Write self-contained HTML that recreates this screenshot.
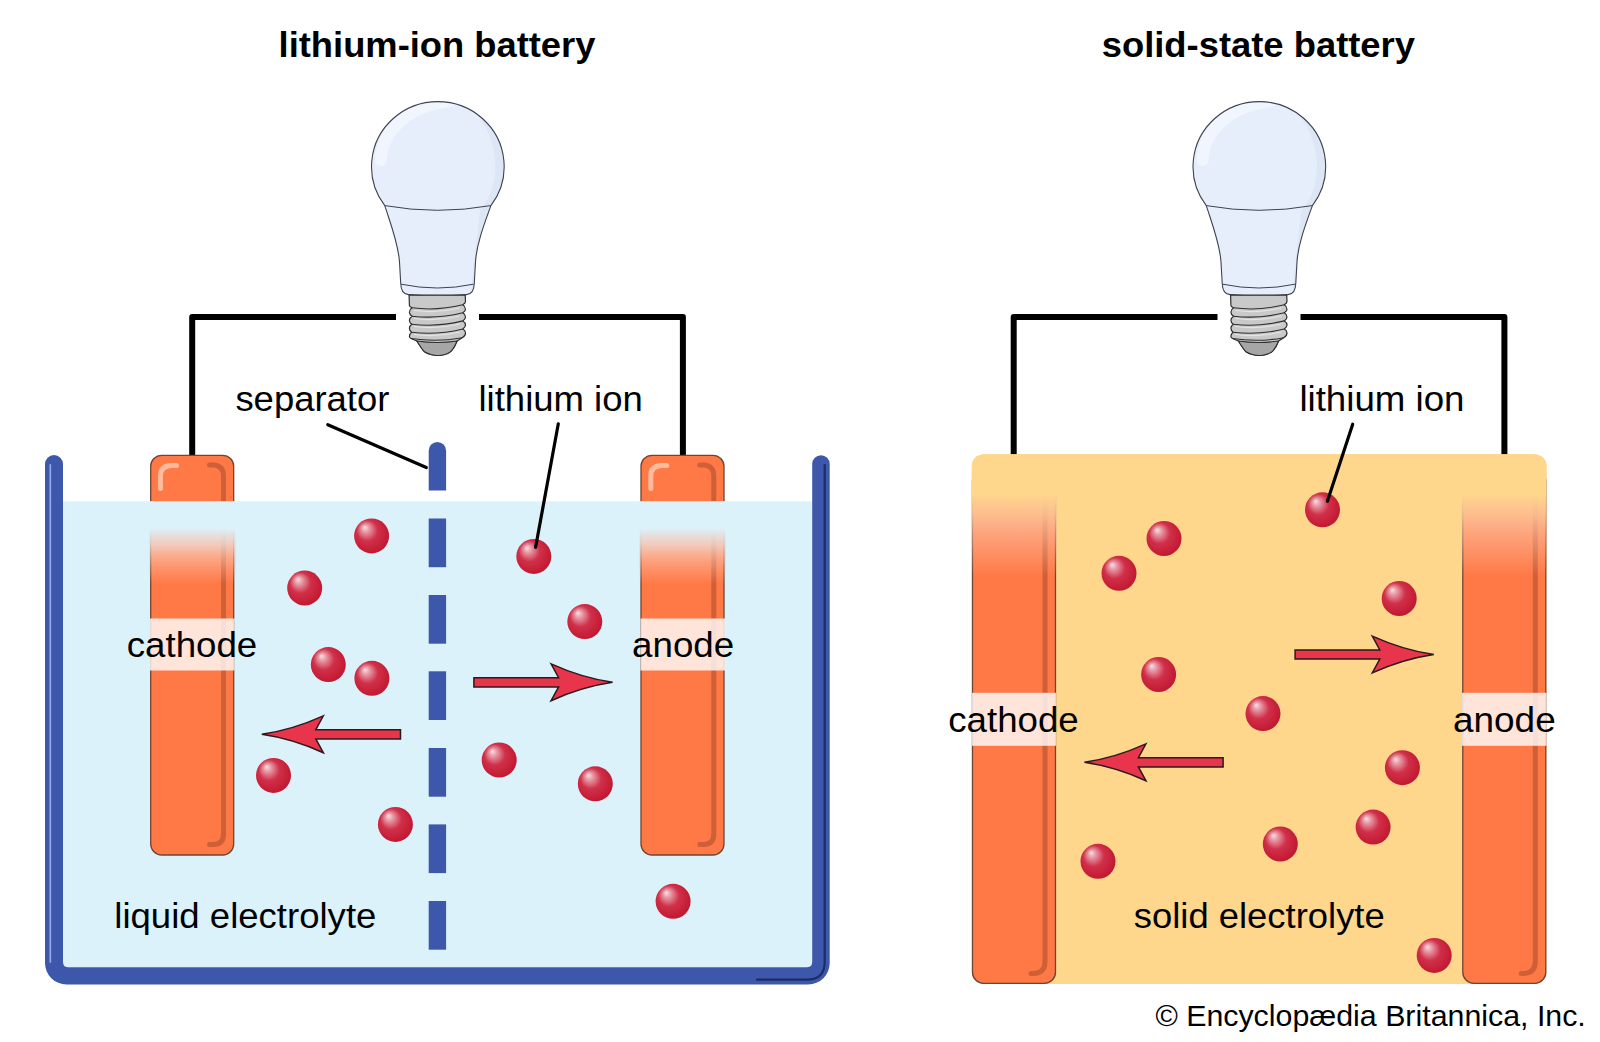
<!DOCTYPE html>
<html><head><meta charset="utf-8">
<style>
html,body{margin:0;padding:0;background:#fff;}
body{width:1600px;height:1042px;overflow:hidden;position:relative;}
svg{position:absolute;left:0;top:0;}
text{font-family:"Liberation Sans",sans-serif;fill:#000;}
</style></head><body>
<svg width="1600" height="1042" viewBox="0 0 1600 1042">
<defs>
  <radialGradient id="gBall" cx="0.45" cy="0.45" r="0.6" fx="0.3" fy="0.25">
    <stop offset="0" stop-color="#f7e1e5"/>
    <stop offset="0.18" stop-color="#e89aa6"/>
    <stop offset="0.5" stop-color="#d0304a"/>
    <stop offset="0.85" stop-color="#c61d36"/>
    <stop offset="1" stop-color="#b8192f"/>
  </radialGradient>
  <g id="ball"><circle cx="0" cy="0" r="17.5" fill="url(#gBall)"/></g>
  <path id="arrowR" d="M -138.7,-4.6 L -54,-4.6 L -61.5,-18.4 Q -30.5,-4.4 0,0 Q -30.5,4.4 -61.5,18.4 L -54,4.6 L -138.7,4.6 Z" fill="#e8354b" stroke="#2b1a1c" stroke-width="1.5" stroke-linejoin="miter"/>
  <linearGradient id="gFadeL" x1="0" y1="0" x2="0" y2="1">
    <stop offset="0" stop-color="#dcf2fa" stop-opacity="1"/>
    <stop offset="0.3" stop-color="#efdcd6" stop-opacity="0.82"/>
    <stop offset="0.6" stop-color="#fbc6ae" stop-opacity="0.5"/>
    <stop offset="1" stop-color="#fbc0a8" stop-opacity="0"/>
  </linearGradient>
  <linearGradient id="gFadeS" x1="0" y1="0" x2="0" y2="1">
    <stop offset="0" stop-color="#fed68c" stop-opacity="1"/>
    <stop offset="0.25" stop-color="#fdc99a" stop-opacity="0.85"/>
    <stop offset="0.5" stop-color="#fcc3a4" stop-opacity="0.55"/>
    <stop offset="1" stop-color="#fcc3a4" stop-opacity="0"/>
  </linearGradient>
  <clipPath id="bulbClip"><path d="M 384.8,205.6 A 66.3 65 0 1 1 490.9,205.6 C 484.5,223.5 476.5,244 475.5,262 L 474.3,283 Q 474,294.3 466.5,294.6 Q 437.5,297.5 408.5,294.6 Q 401,294.3 400.7,283 L 399.5,262 C 398.5,244 390.5,223.5 384.8,205.6 Z"/></clipPath>
  <g id="bulb">
    <path d="M 384.8,205.6 A 66.3 65 0 1 1 490.9,205.6 C 484.5,223.5 476.5,244 475.5,262 L 474.3,283 Q 474,294.3 466.5,294.6 Q 437.5,297.5 408.5,294.6 Q 401,294.3 400.7,283 L 399.5,262 C 398.5,244 390.5,223.5 384.8,205.6 Z" fill="#e7eefb"/>
    <g clip-path="url(#bulbClip)">
      <path d="M 466,104 C 500,130 504,185 480,210 L 471,290 L 520,290 L 520,100 Z" fill="#dbe3f4" opacity="0.8"/>
      <path d="M 381,160 C 382,130 410,105 450,101" fill="none" stroke="#f3f6ff" stroke-width="12" opacity="0.8" stroke-linecap="round"/>
    </g>
    <path d="M 384.8,205.6 A 66.3 65 0 1 1 490.9,205.6 C 484.5,223.5 476.5,244 475.5,262 L 474.3,283 Q 474,294.3 466.5,294.6 Q 437.5,297.5 408.5,294.6 Q 401,294.3 400.7,283 L 399.5,262 C 398.5,244 390.5,223.5 384.8,205.6 Z" fill="none" stroke="#3d4250" stroke-width="1.1"/>
    <path d="M 384.8,205.6 Q 437.5,215 490.9,205.6" fill="none" stroke="#3d4250" stroke-width="1"/>
    <path d="M 401.1,284.2 Q 437.5,291.8 473.5,284.2" fill="none" stroke="#3d4250" stroke-width="1"/>
    <path d="M 409.1,295.2 L 465.2,295.2 L 465.5,301.4 Q 465.5,303 462.8,304.8 Q 465.5,306.5 465.5,309.5 Q 465.5,311 462.8,312.8 Q 465.5,314.5 465.5,316.9 Q 465.5,319 462.8,320.9 Q 465.5,322.5 465.5,325 Q 465.5,327 462.8,329 Q 465.5,330.5 465.5,333 Q 465.5,336 462.2,337.7 L 457.1,341 C 455.5,345 454,348 451.7,350.5 Q 448,354.5 439,355.5 Q 431,355.8 424.5,351.8 C 422,349.5 419.5,345 416.8,341 L 411,338.5 Q 409.4,337.5 409.4,336.4 Q 409.4,334 411.6,332.3 Q 409.4,330.5 409.4,328.3 Q 409.4,326 411.8,324.3 Q 409.4,322.5 409.4,320.2 Q 409.4,318 412.1,316.2 Q 409.4,314.5 409.4,312.2 Q 409.4,309.5 412.1,307.8 Q 409.4,306.5 409.4,305.5 Z" fill="#c9c9c9" stroke="#2e2e2e" stroke-width="1.2" stroke-linejoin="round"/>
    <path d="M 416.8,341 Q 437,344 457.1,341 C 455.5,345 454,348 451.7,350.5 Q 448,354.5 439,355.5 Q 431,355.8 424.5,351.8 C 422,349.5 419.5,345 416.8,341 Z" fill="#a6a6a6" stroke="#2e2e2e" stroke-width="1.1"/>
    <path d="M 412.1,307.8 Q 437,311.1 462.8,304.8 M 412.1,316.2 Q 437,319.2 462.8,312.8 M 411.8,324.3 Q 437,327.3 462.8,320.9 M 411.6,332.3 Q 437,335.4 462.8,329 M 411,338.5 Q 437,342.5 462.2,337.7" fill="none" stroke="#2e2e2e" stroke-width="1.1"/>
    <path d="M 414,310.5 Q 437,313.5 460,308 M 414,318.5 Q 437,321.5 460,316 M 414,326.5 Q 437,329.5 460,324 M 414,334.5 Q 437,337.5 460,332" fill="none" stroke="#e4e4e4" stroke-width="1.2"/>
  </g>
</defs>

<!-- titles -->
<text x="278.6" y="56.5" font-size="35.5" font-weight="bold" textLength="316.8" lengthAdjust="spacingAndGlyphs">lithium-ion battery</text>
<text x="1101.7" y="56.5" font-size="35.5" font-weight="bold" textLength="313.3" lengthAdjust="spacingAndGlyphs">solid-state battery</text>

<!-- ============ LEFT: lithium-ion ============ -->
<use href="#bulb"/>
<path d="M 396,317 L 192.2,317 L 192.2,456 M 479,317 L 682.9,317 L 682.9,456" fill="none" stroke="#000" stroke-width="6" stroke-linejoin="round"/>

<!-- electrolyte -->
<path d="M 62.5,501.2 L 812.2,501.2 L 812.2,962 Q 812.2,967.2 807,967.2 L 67.5,967.2 Q 62.5,967.2 62.5,962 Z" fill="#dcf2fa"/>

<!-- cathode L -->
<g id="elecL">
  <rect x="150.7" y="455.3" width="83" height="399.7" rx="11" fill="#ff7947" stroke="#6d4535" stroke-width="1.3"/>
  <path d="M 176.5,465.5 L 171,465.5 Q 160.5,466 160.5,476 L 160.5,488.5" fill="none" stroke="#fdbb9c" stroke-width="5" stroke-linecap="round"/>
  <path d="M 209.5,465 L 214,465 Q 223.5,466 223.5,476 L 223.5,834 Q 223.5,844.5 213,844.5 L 209.5,844.5" fill="none" stroke="#cf5f37" stroke-width="5" stroke-linecap="round"/>
</g>
<use href="#elecL" x="490.3"/>
<!-- fade over electrodes -->
<rect x="149" y="501.2" width="87" height="27" fill="#dcf2fa"/>
<rect x="149" y="528" width="87" height="56" fill="url(#gFadeL)"/>
<rect x="639" y="501.2" width="87" height="27" fill="#dcf2fa"/>
<rect x="639" y="528" width="87" height="56" fill="url(#gFadeL)"/>

<!-- label bands -->
<rect x="150" y="618.5" width="84.5" height="52" fill="#fff" fill-opacity="0.8"/>
<rect x="640.5" y="618.5" width="84.5" height="52" fill="#fff" fill-opacity="0.8"/>

<!-- container walls -->
<path d="M 45,464 A 9 9 0 0 1 63,464 L 63,962 Q 63,967.2 68,967.2 L 807,967.2 Q 812.2,967.2 812.2,962 L 812.2,464 A 8.75 8.75 0 0 1 829.7,464 L 829.7,963 A 21.5 21.5 0 0 1 808.2,984.5 L 66.5,984.5 A 21.5 21.5 0 0 1 45,963 Z" fill="#3d57ab"/>
<path d="M 50.3,465 L 50.3,962" stroke="#8ea6e4" stroke-width="1.8" fill="none" stroke-linecap="round"/>
<path d="M 824.7,465 L 824.7,962 Q 824.7,979.7 807,979.7 L 757,979.7" stroke="#1d2d66" stroke-width="2.2" fill="none" stroke-linecap="round"/>

<!-- separator -->
<path d="M 428.7,490.5 L 428.7,450.7 A 8.7 8.7 0 0 1 446.1,450.7 L 446.1,490.5 Z" fill="#3d57ab"/>
<rect x="428.7" y="518.5" width="17.4" height="48.7" fill="#3d57ab"/>
<rect x="428.7" y="595" width="17.4" height="48.7" fill="#3d57ab"/>
<rect x="428.7" y="671.3" width="17.4" height="48.7" fill="#3d57ab"/>
<rect x="428.7" y="748" width="17.4" height="48.7" fill="#3d57ab"/>
<rect x="428.7" y="824.4" width="17.4" height="48.7" fill="#3d57ab"/>
<rect x="428.7" y="901" width="17.4" height="48.7" fill="#3d57ab"/>

<!-- labels -->
<text x="235.4" y="410.6" font-size="35.5" textLength="154" lengthAdjust="spacingAndGlyphs">separator</text>
<text x="478.5" y="410.6" font-size="35.5" textLength="164.3" lengthAdjust="spacingAndGlyphs">lithium ion</text>
<text x="126.7" y="656.8" font-size="35.5" textLength="130.6" lengthAdjust="spacingAndGlyphs">cathode</text>
<text x="632.1" y="656.8" font-size="35.5" textLength="102.1" lengthAdjust="spacingAndGlyphs">anode</text>
<text x="114.3" y="928.2" font-size="35.5" textLength="262.1" lengthAdjust="spacingAndGlyphs">liquid electrolyte</text>
<path d="M 327.8,424.7 L 426.3,467.5" stroke="#000" stroke-width="3.2" fill="none" stroke-linecap="round"/>


<!-- balls L -->
<use href="#ball" x="371.6" y="535.9"/>
<use href="#ball" x="304.7" y="588"/>
<use href="#ball" x="533.8" y="556.4"/>
<use href="#ball" x="584.8" y="621.6"/>
<use href="#ball" x="328.3" y="664.6"/>
<use href="#ball" x="371.9" y="678.3"/>
<use href="#ball" x="273.5" y="775.4"/>
<use href="#ball" x="499.2" y="760"/>
<use href="#ball" x="595.3" y="783.8"/>
<use href="#ball" x="395.4" y="824.4"/>
<use href="#ball" x="673.1" y="901.3"/>

<path d="M 558.3,423.8 L 535.6,547.3" stroke="#000" stroke-width="3.2" fill="none" stroke-linecap="round"/>
<!-- arrows L -->
<use href="#arrowR" transform="translate(612.6,682.3)"/>
<use href="#arrowR" transform="translate(261.8,734.3) rotate(180)"/>

<!-- ============ RIGHT: solid-state ============ -->
<use href="#bulb" x="821.5"/>
<path d="M 1217.5,317 L 1013.7,317 L 1013.7,456 M 1300.5,317 L 1504.4,317 L 1504.4,456" fill="none" stroke="#000" stroke-width="6" stroke-linejoin="round"/>

<rect x="971.8" y="454.2" width="574.7" height="529.8" rx="12" fill="#fed68c"/>
<g id="elecS">
  <rect x="972.5" y="470" width="83" height="513.3" rx="11" fill="#ff7947" stroke="#6d4535" stroke-width="1.3"/>
  <path d="M 1045,480 L 1045,961.5 Q 1045,973.4 1033,973.4 L 1031,973.4" fill="none" stroke="#cf5f37" stroke-width="5" stroke-linecap="round"/>
</g>
<use href="#elecS" x="490.3"/>
<path d="M 971.8,466.2 A 12 12 0 0 1 983.8,454.2 L 1534.5,454.2 A 12 12 0 0 1 1546.5,466.2 L 1546.5,495 L 971.8,495 Z" fill="#fed68c"/>
<rect x="971.8" y="494.5" width="85" height="82" fill="url(#gFadeS)"/>
<rect x="1461.5" y="494.5" width="85" height="82" fill="url(#gFadeS)"/>

<rect x="972" y="692.8" width="84" height="53" fill="#fff" fill-opacity="0.8"/>
<rect x="1462" y="692.8" width="84.5" height="53" fill="#fff" fill-opacity="0.8"/>

<text x="1299.4" y="410.6" font-size="35.5" textLength="165.1" lengthAdjust="spacingAndGlyphs">lithium ion</text>

<text x="948.2" y="731.7" font-size="35.5" textLength="130.6" lengthAdjust="spacingAndGlyphs">cathode</text>
<text x="1452.9" y="731.7" font-size="35.5" textLength="102.8" lengthAdjust="spacingAndGlyphs">anode</text>
<text x="1133.8" y="927.6" font-size="35.5" textLength="250.9" lengthAdjust="spacingAndGlyphs">solid electrolyte</text>

<use href="#ball" x="1322.5" y="509.8"/>
<use href="#ball" x="1164" y="538.5"/>
<use href="#ball" x="1119" y="573.3"/>
<use href="#ball" x="1399.2" y="598.5"/>
<use href="#ball" x="1158.6" y="674.5"/>
<use href="#ball" x="1263" y="713.6"/>
<use href="#ball" x="1402.4" y="767.7"/>
<use href="#ball" x="1373.1" y="827.1"/>
<use href="#ball" x="1280.3" y="844"/>
<use href="#ball" x="1098" y="861.3"/>
<use href="#ball" x="1434.2" y="955.4"/>

<path d="M 1352.7,424.2 L 1327.4,501.3" stroke="#000" stroke-width="3.2" fill="none" stroke-linecap="round"/>
<use href="#arrowR" transform="translate(1433.8,654.5)"/>
<use href="#arrowR" transform="translate(1084.4,762.3) rotate(180)"/>

<text x="1155.4" y="1026.4" font-size="30.4" textLength="430.4" lengthAdjust="spacingAndGlyphs">© Encyclopædia Britannica, Inc.</text>
</svg>
</body></html>
